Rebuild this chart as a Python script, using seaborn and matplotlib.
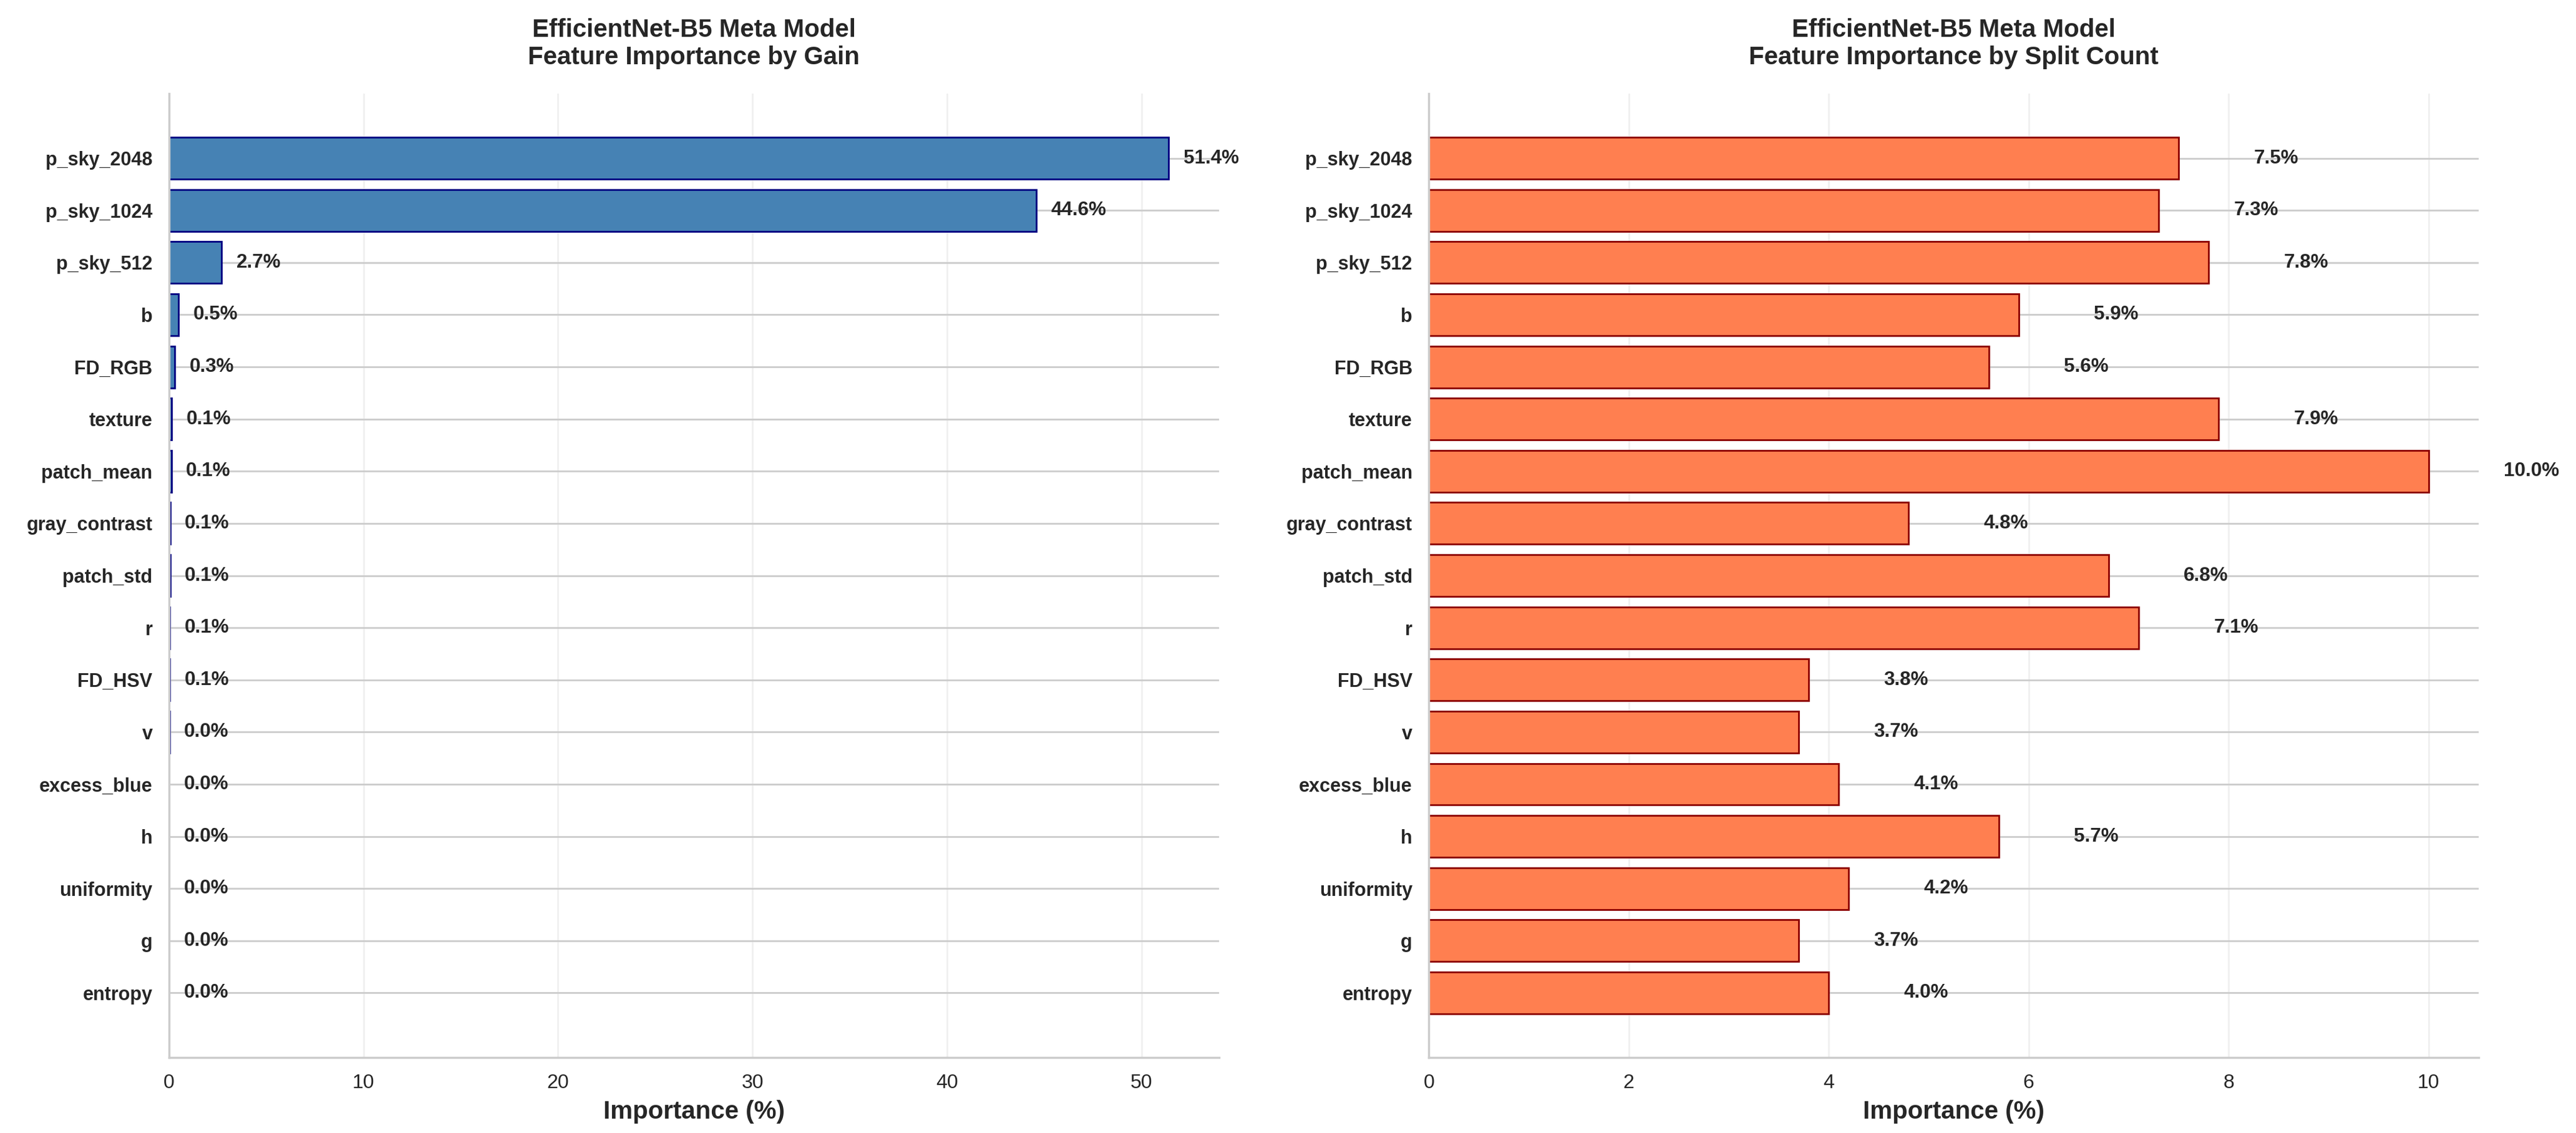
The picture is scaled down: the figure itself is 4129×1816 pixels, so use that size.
import numpy as np
import pandas as pd
import matplotlib
matplotlib.use('Agg')
import matplotlib.pyplot as plt
import seaborn as sns

# Feature order (sorted by gain importance)
features = ['p_sky_2048', 'p_sky_1024', 'p_sky_512', 'b', 'FD_RGB', 'texture',
            'patch_mean', 'gray_contrast', 'patch_std', 'r', 'FD_HSV', 'v',
            'excess_blue', 'h', 'uniformity', 'g', 'entropy']

# Importance by gain (%)
gain_pct = [51.4, 44.6, 2.7, 0.5, 0.3, 0.14, 0.12, 0.06, 0.06, 0.05, 0.05,
            0.03, 0.02, 0.02, 0.01, 0.01, 0.01]

# Importance by split count (%)
split_pct = [7.5, 7.3, 7.8, 5.9, 5.6, 7.9, 10.0, 4.8, 6.8, 7.1, 3.8, 3.7,
             4.1, 5.7, 4.2, 3.7, 4.0]

sns.set_theme(style='whitegrid')
plt.rcParams['font.family'] = ['Liberation Sans', 'DejaVu Sans']

df = pd.DataFrame({'Feature': features, 'Gain': gain_pct, 'Split': split_pct})

fig, axes = plt.subplots(1, 2, figsize=(4129 / 200, 1816 / 200), dpi=200)
fig.subplots_adjust(left=0.0656, right=0.9622, bottom=0.0666, top=0.9174, wspace=0.2)

panels = [
    ('Gain', 'steelblue', 'navy', 'EfficientNet-B5 Meta Model\nFeature Importance by Gain'),
    ('Split', 'coral', 'darkred', 'EfficientNet-B5 Meta Model\nFeature Importance by Split Count'),
]

for ax, (col, color, edge, title) in zip(axes, panels):
    sns.barplot(data=df, x=col, y='Feature', order=features, orient='h',
                color=color, edgecolor=edge, linewidth=1.0, saturation=1,
                width=0.8, ax=ax)
    vmax = df[col].max()
    for i, v in enumerate(df[col]):
        ax.text(v + 0.75, i, f'{v:.1f}%', va='center', ha='left',
                fontsize=11.3, fontweight='bold', color='#262626')
    ax.set_xlim(0, vmax * 1.05)
    ax.set_ylim(len(features) - 1 + 1.24, -1.24)
    ax.set_title(title, fontsize=14.5, fontweight='bold', pad=17)
    ax.set_xlabel('Importance (%)', fontsize=14.5, fontweight='bold')
    ax.set_ylabel('')
    ax.tick_params(axis='x', labelsize=11.5)
    ax.tick_params(axis='y', labelsize=11)
    for lbl in ax.get_yticklabels():
        lbl.set_fontweight('bold')
    ax.yaxis.grid(True, color='#cccccc', linewidth=1.0)
    ax.xaxis.grid(True, alpha=0.3)
    ax.set_axisbelow(True)
    sns.despine(ax=ax)

fig.savefig('out.png', dpi=200)
